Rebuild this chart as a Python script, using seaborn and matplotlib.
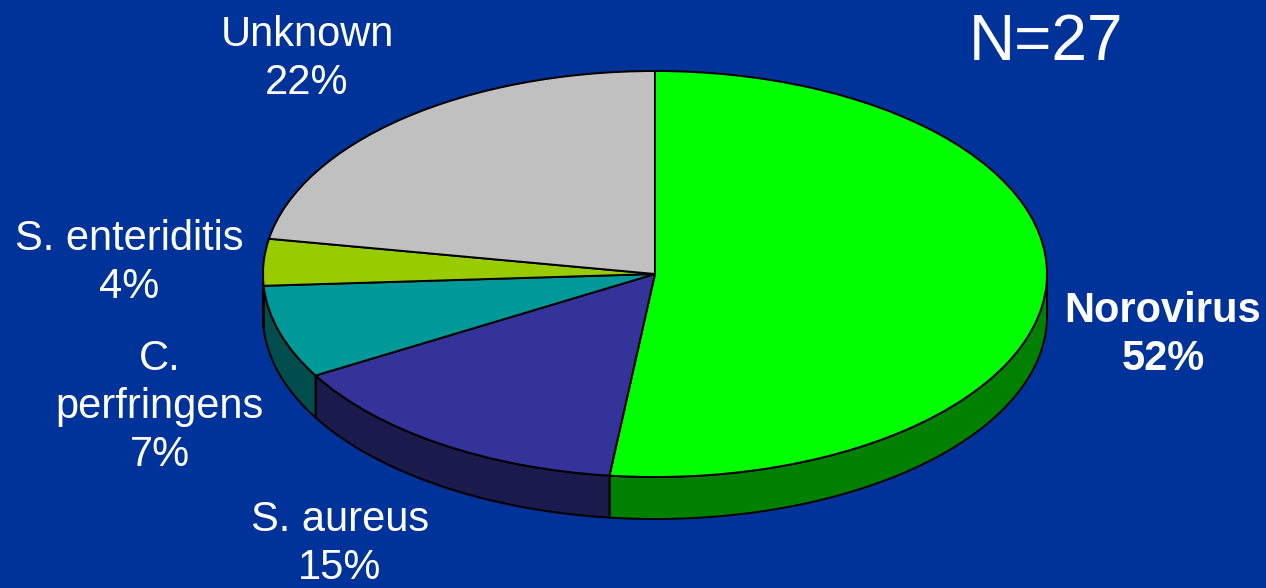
import numpy as np
import matplotlib
matplotlib.use("Agg")
import matplotlib.pyplot as plt
import seaborn as sns

# Data: case counts (N=27), clockwise from 12 o'clock
categories = ["Norovirus", "S. aureus", "C.\nperfringens", "S. enteriditis", "Unknown"]
counts = [14, 4, 2, 1, 6]
percent_labels = ["52%", "15%", "7%", "4%", "22%"]
top_colors = ["#00FF00", "#333399", "#009999", "#99CC00", "#C0C0C0"]
side_colors = ["#008000", "#1A1A4D", "#004D4D", "#4D6600", "#606060"]
title_text = "N=27"
bg = "#003399"

sns.set_theme(style="white")
plt.rcParams["font.family"] = ["Liberation Sans", "DejaVu Sans"]

W, H = 1266, 588
CX, CY, RX, RY, DEPTH = 655, 274, 392, 203, 42

fig = plt.figure(figsize=(W / 100, H / 100), dpi=100, facecolor=bg)
ax = fig.add_axes([0, 0, 1, 1], facecolor=bg)

palette = sns.color_palette(top_colors)
ax.pie(counts, colors=palette, startangle=90, counterclock=False, radius=1,
       wedgeprops=dict(edgecolor="black", linewidth=1.4, zorder=3))

ax.set_aspect("auto")
ax.set_xlim(-CX / RX, (W - CX) / RX)
ax.set_ylim((CY - H) / RY, CY / RY)
ax.set_axis_off()

# Side wall of the disc: front-facing part of each slice, derived from the counts
depth = DEPTH / RY
edges = np.cumsum([0] + counts) / sum(counts) * 2 * np.pi  # clockwise from top
for start, end, col in zip(edges[:-1], edges[1:], side_colors):
    lo, hi = max(start, np.pi / 2), min(end, 3 * np.pi / 2)
    if hi <= lo:
        continue
    t = np.linspace(lo, hi, 100)
    x, y = np.sin(t), np.cos(t)
    ax.fill(np.r_[x, x[::-1]], np.r_[y, y[::-1] - depth], facecolor=col,
            edgecolor="black", linewidth=1.4, zorder=2)


def px(xp, yp):
    return (xp - CX) / RX, (CY - yp) / RY


label_pos = [(1163, 335), (340, 544), (160, 407), (129, 263), (307, 59)]
for name, pct, (xp, yp), i in zip(categories, percent_labels, label_pos, range(5)):
    ax.text(*px(xp, yp), f"{name}\n{pct}", color="white", fontsize=30,
            ha="center", va="center", linespacing=1.26,
            fontweight="bold" if i == 0 else "normal")

ax.text(*px(1046, 43), title_text, color="white", fontsize=46, ha="center", va="center")

fig.savefig("out.png", dpi=100, facecolor=bg)
